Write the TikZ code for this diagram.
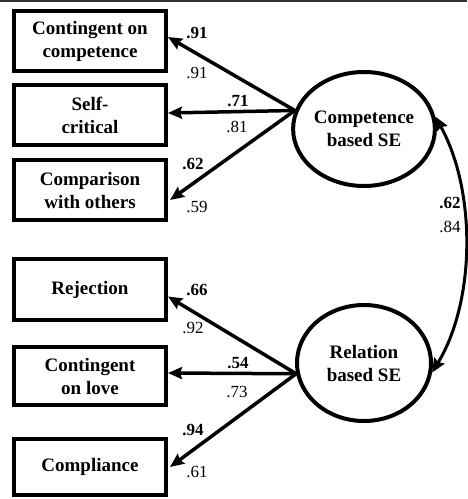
\documentclass[tikz,border=0pt]{standalone}
\usepackage{fontspec}
\setmainfont{Liberation Serif}
\usetikzlibrary{arrows.meta,shapes.geometric}
\begin{document}
\begin{tikzpicture}[x=1pt,y=-1pt,
  obs/.style={draw,line width=4pt,rectangle,inner sep=0pt,minimum width=152pt,align=center,
    font=\fontsize{19}{23}\selectfont\bfseries},
  lat/.style={draw,line width=4pt,ellipse,inner sep=0pt,minimum width=134pt,align=center,
    font=\fontsize{19}{23}\selectfont\bfseries},
  load/.style={line width=3.5pt,line cap=butt,-{Stealth[length=14pt,width=12pt,inset=2pt]}},
  corr/.style={line width=3pt,{Stealth[length=14pt,width=12pt,inset=2pt]}-{Stealth[length=14pt,width=12pt,inset=2pt]}},
  std/.style={font=\fontsize{17}{20}\selectfont\bfseries,inner sep=0pt},
  unstd/.style={font=\fontsize{17}{20}\selectfont,inner sep=0pt}]
\useasboundingbox (0,0) rectangle (467,499);
\coordinate (tl) at (0,1);
\coordinate (tr) at (467,1);
\draw[line width=2pt,black!80] (tl) -- (tr);

\node[obs,minimum height=60pt] (b1) at (90,41) {Contingent on\\competence};
\node[obs,minimum height=60pt] (b2) at (90,115) {Self-\\critical};
\node[obs,minimum height=60pt] (b3) at (90,190) {Comparison\\with others};
\node[obs,minimum height=61pt] (b4) at (90,289.5) {Rejection};
\node[obs,minimum height=58pt] (b5) at (90,376) {Contingent\\on love};
\node[obs,minimum height=56pt] (b6) at (90,467) {Compliance};

\node[lat,minimum height=114pt] (e1) at (364,129) {Competence\\based SE};
\node[lat,minimum height=116pt] (e2) at (364,363) {Relation\\based SE};

\draw[load] (e1.165) -- ([yshift=4pt]b1.east);
\draw[load] (e1.165) -- ([yshift=2pt]b2.east);
\draw[load] (e1.165) -- ([yshift=-10pt,xshift=2pt]b3.east);
\draw[load] (e2.189) -- ([yshift=-7pt]b4.east);
\draw[load] (e2.189) -- ([yshift=3pt]b5.east);
\draw[load] (e2.189) -- ([xshift=2pt]b6.east);

\draw[corr] (e2.352) .. controls (476,300) and (476,190) .. (e1.10);

\node[std] (l1) at (197,33) {.91};
\node[unstd] (u1) at (197,73) {.91};
\node[std] (l2) at (238,101) {.71};
\node[unstd] (u2) at (237,127) {.81};
\node[std] (l3) at (193,164) {.62};
\node[unstd] (u3) at (197,207) {.59};
\node[std] (l4) at (197,290) {.66};
\node[unstd] (u4) at (193,328) {.92};
\node[std] (l5) at (238,363) {.54};
\node[unstd] (u5) at (237,392) {.73};
\node[std] (l6) at (193,430) {.94};
\node[unstd] (u6) at (197,472) {.61};
\node[std] (l7) at (450,203) {.62};
\node[unstd] (u7) at (450,227) {.84};
\end{tikzpicture}
\end{document}
